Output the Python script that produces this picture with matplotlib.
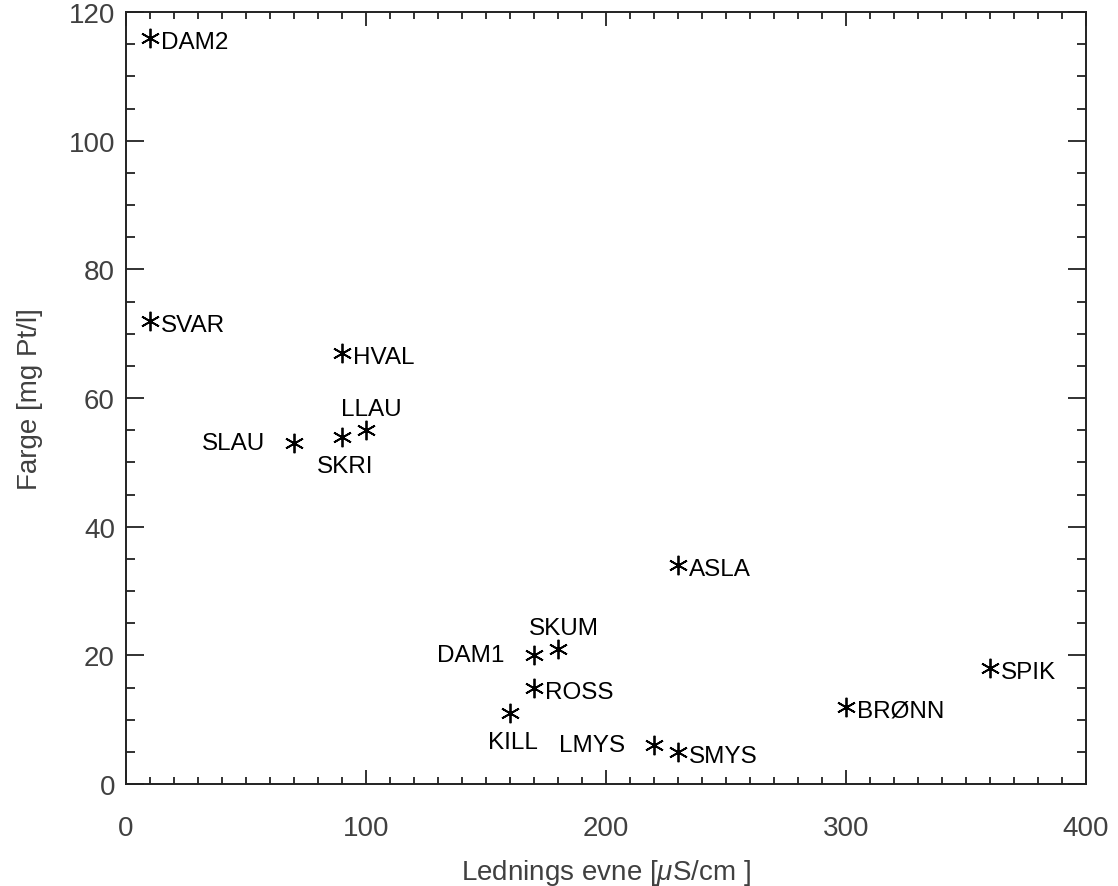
import matplotlib.pyplot as plt
from matplotlib.ticker import MultipleLocator

# station data
stations = ['DAM2', 'SVAR', 'HVAL', 'SLAU', 'SKRI', 'LLAU', 'ASLA', 'SKUM',
            'DAM1', 'ROSS', 'KILL', 'LMYS', 'SMYS', 'BR\u00d8NN', 'SPIK']
conductivity = [10, 10, 90, 70, 90, 100, 230, 180, 170, 170, 160, 220, 230, 300, 360]
colour = [116, 72, 67, 53, 54, 55, 34, 21, 20, 15, 11, 6, 5, 12, 18]
label_side = ['right', 'right', 'right', 'left', 'below', 'above', 'right', 'above',
              'left', 'right', 'below', 'left', 'right', 'right', 'right']

plt.rcParams['font.family'] = ['Liberation Sans', 'DejaVu Sans']
plt.rcParams['mathtext.fontset'] = 'custom'
plt.rcParams['mathtext.it'] = 'Liberation Sans:italic'

fig = plt.figure(figsize=(11.18, 8.87), dpi=100)
ax = fig.add_axes([126 / 1118, 1 - 785 / 887, 960 / 1118, 772 / 887])

ax.plot(conductivity, colour, linestyle='none', marker=(6, 2, 0),
        markersize=14, markeredgewidth=1.3, color='black')

# offsets in points: (dx, dy, ha)
side_style = {
    'right': (8, -3, 'left'),
    'left': (-21, 0, 'right'),
    'above': (4, 15, 'center'),
    'below': (2, -21, 'center'),
}
for name, x, y, side in zip(stations, conductivity, colour, label_side):
    dx, dy, ha = side_style[side]
    ax.annotate(name, (x, y), xytext=(dx, dy), textcoords='offset points',
                ha=ha, va='center', fontsize=17.5, color='black')

ax.set_xlim(0, 400)
ax.set_ylim(0, 120)
ax.xaxis.set_major_locator(MultipleLocator(100))
ax.xaxis.set_minor_locator(MultipleLocator(10))
ax.yaxis.set_major_locator(MultipleLocator(20))
ax.yaxis.set_minor_locator(MultipleLocator(5))

grey = '#404040'
ax.tick_params(axis='both', which='both', direction='in', top=True, right=True,
               color='#222222', width=1.3, labelcolor=grey, labelsize=20)
ax.tick_params(axis='x', which='major', length=10, pad=22)
ax.tick_params(axis='x', which='minor', length=5)
ax.tick_params(axis='y', which='major', length=13, pad=8)
ax.tick_params(axis='y', which='minor', length=6.5)
for sp in ax.spines.values():
    sp.set_linewidth(1.4)
    sp.set_color('#222222')

ax.set_xlabel(r'Lednings evne [$\mu$S/cm ]', fontsize=20, color=grey, labelpad=12)
ax.set_ylabel('Farge [mg Pt/l]', fontsize=20, color=grey, labelpad=18)

fig.savefig('out.png', dpi=100)
